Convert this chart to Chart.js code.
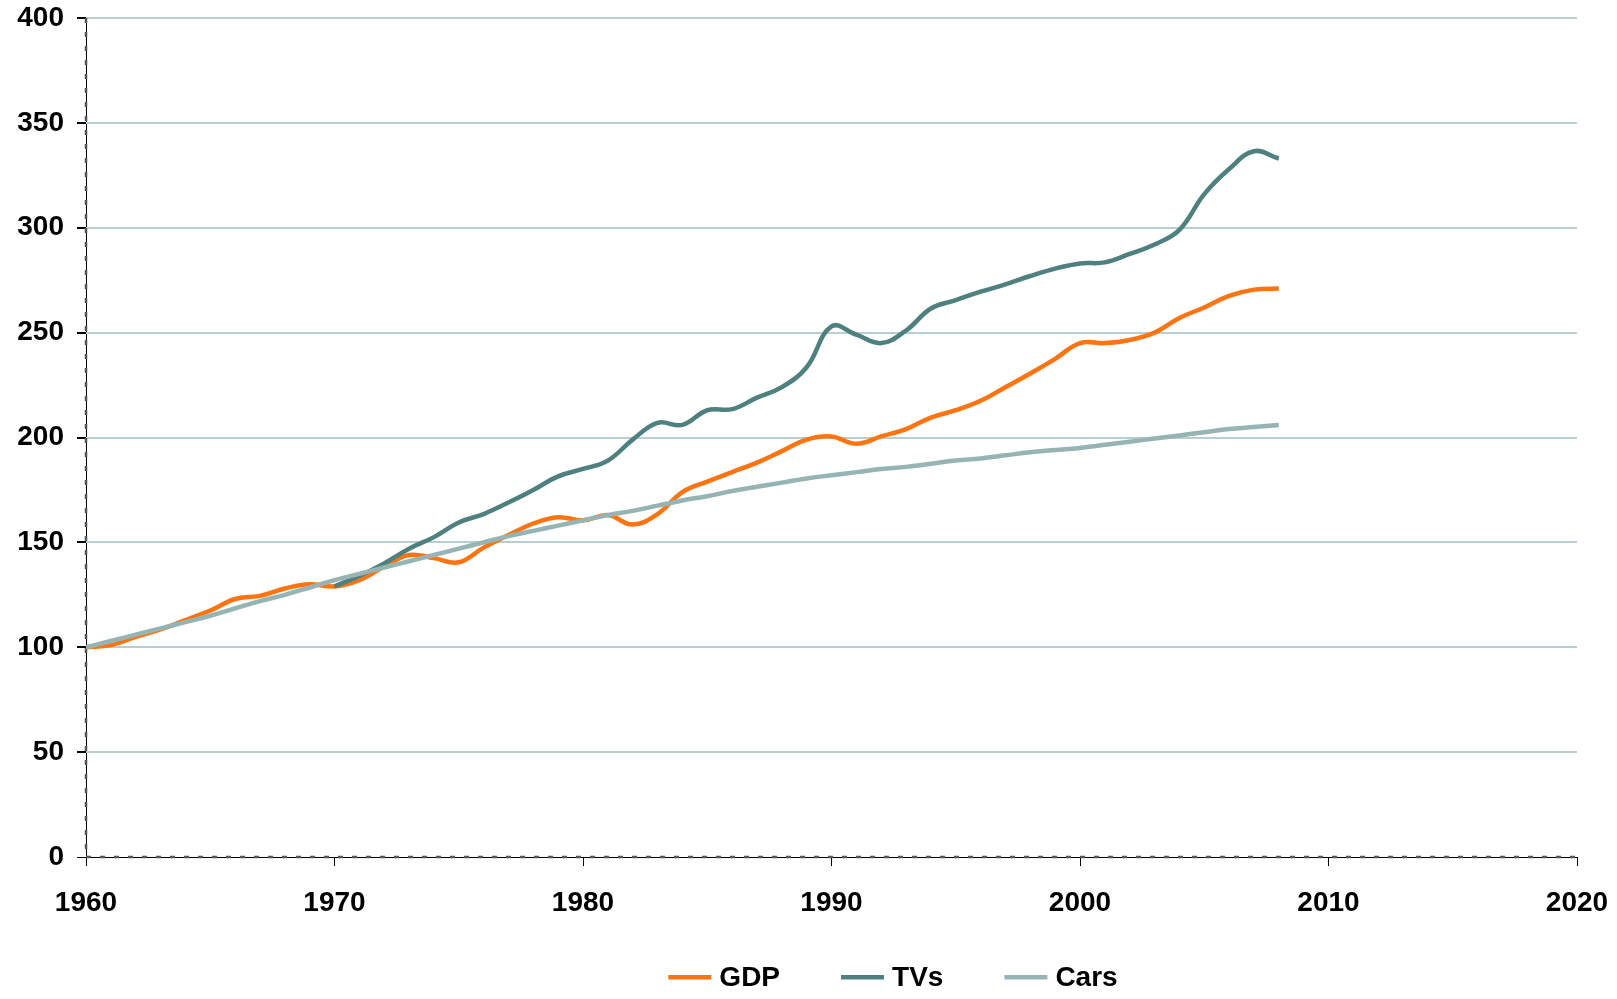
<!DOCTYPE html>
<html>
<head>
<meta charset="utf-8">
<title>GDP, TVs and Cars</title>
<script src="https://cdn.jsdelivr.net/npm/chart.js@4.4.1/dist/chart.umd.min.js"></script>
<style>
    html, body { margin: 0; padding: 0; background: #fff; }
    #wrap { width: 1617px; height: 999px; position: relative; }
</style>
</head>
<body>
<div id="wrap"><canvas id="growthChart"></canvas></div>
<script>
// Index values (1960 = 100)
const years = [1960, 1961, 1962, 1963, 1964, 1965, 1966, 1967, 1968, 1969,
               1970, 1971, 1972, 1973, 1974, 1975, 1976, 1977, 1978, 1979,
               1980, 1981, 1982, 1983, 1984, 1985, 1986, 1987, 1988, 1989,
               1990, 1991, 1992, 1993, 1994, 1995, 1996, 1997, 1998, 1999,
               2000, 2001, 2002, 2003, 2004, 2005, 2006, 2007, 2008];

const gdp = [100, 101, 105, 108.5, 113, 117.5, 123, 124.5, 128, 130,
             129, 132, 138.5, 144, 142.5, 140.5, 147.5, 153.5, 159, 162,
             160.5, 163, 158.5, 163.5, 174, 179, 183.5, 188, 193.5, 199,
             200.5, 197, 200.5, 204, 209.5, 213, 217.5, 224, 230.5, 237.5,
             245, 245, 246.5, 250, 257, 262, 267.5, 270.5, 271];

const tvs = [null, null, null, null, null, null, null, null, null, null,
             129, 134, 140, 147, 152.5, 159.5, 163.5, 169, 175, 181.5,
             185, 189, 199, 207, 206, 213, 213.5, 219, 224, 233.5,
             253, 249, 245, 251, 261.5, 265.5, 269.5, 273, 277, 280.5,
             283, 283.5, 287.5, 292, 299, 316, 328, 336.5, 333];

const cars = [100, 103, 106, 109, 112, 115, 118.5, 122, 125, 128.5,
              132, 135, 138, 141, 144, 147, 150, 153, 155.5, 158,
              160.5, 163, 165, 167.5, 170, 172, 174.5, 176.5, 178.5, 180.5,
              182, 183.5, 185, 186, 187.5, 189, 190, 191.5, 193, 194,
              195, 196.5, 198, 199.5, 201, 202.5, 204, 205, 206];

const yTicks = [0, 50, 100, 150, 200, 250, 300, 350, 400];
const xTicks = [1960, 1970, 1980, 1990, 2000, 2010, 2020];

const COLORS = {
    gdp: '#ff7410',
    tvs: '#4d807f',
    cars: '#95b4b3',
    grid: '#b8cfcf',
    axis: '#555555'
};

const FONT = "'Liberation Sans', Arial, sans-serif";

// legend row placement (the original sits right of centre)
const LEGEND = { centerX: 893, y: 977, swatch: 43, gap: 8, spacing: 61, size: 28 };

function toPoints(values) {
    return years.map((yr, i) => ({ x: yr, y: values[i] }));
}

function makeSet(label, values, color, order) {
    return {
        label: label,
        data: toPoints(values),
        borderColor: color,
        backgroundColor: color,
        borderWidth: 4.5,
        pointRadius: 0,
        tension: 0.4,
        fill: false,
        order: order
    };
}

// Gray dashes laid over the thin black axis lines
const dashedAxes = {
    id: 'dashedAxes',
    beforeDatasetsDraw(chart) {
        const { ctx, chartArea: a } = chart;
        ctx.save();
        ctx.strokeStyle = COLORS.axis;
        ctx.lineWidth = 2.5;
        ctx.setLineDash([5, 9]);
        ctx.beginPath();
        ctx.moveTo(a.left, a.top);
        ctx.lineTo(a.left, a.bottom);
        ctx.moveTo(a.left, a.bottom);
        ctx.lineTo(a.right, a.bottom);
        ctx.stroke();
        ctx.restore();
    }
};

// Legend drawn as one row: line swatch + bold label
const legendRow = {
    id: 'legendRow',
    afterDraw(chart) {
        const ctx = chart.ctx;
        ctx.save();
        ctx.font = 'bold ' + LEGEND.size + 'px ' + FONT;
        ctx.textBaseline = 'middle';
        ctx.textAlign = 'left';
        const items = chart.data.datasets.map(ds => ({
            text: ds.label,
            color: ds.borderColor,
            w: ctx.measureText(ds.label).width
        }));
        let total = LEGEND.spacing * (items.length - 1);
        items.forEach(it => { total += LEGEND.swatch + LEGEND.gap + it.w; });
        let x = LEGEND.centerX - total / 2;
        items.forEach(it => {
            ctx.fillStyle = it.color;
            ctx.fillRect(x, LEGEND.y - 2, LEGEND.swatch, 4.5);
            x += LEGEND.swatch + LEGEND.gap;
            ctx.fillStyle = '#000';
            ctx.fillText(it.text, x, LEGEND.y + 1);
            x += it.w + LEGEND.spacing;
        });
        ctx.restore();
    }
};

const ctx = document.getElementById('growthChart');

new Chart(ctx, {
    type: 'line',
    data: {
        datasets: [
            makeSet('GDP', gdp, COLORS.gdp, 3),
            makeSet('TVs', tvs, COLORS.tvs, 2),
            makeSet('Cars', cars, COLORS.cars, 1)
        ]
    },
    plugins: [dashedAxes, legendRow],
    options: {
        responsive: true,
        maintainAspectRatio: false,
        animation: false,
        layout: {
            padding: { top: 18, right: 40, bottom: 80, left: 0 }
        },
        plugins: {
            tooltip: { enabled: false },
            legend: { display: false }
        },
        scales: {
            x: {
                type: 'linear',
                min: 1960,
                max: 2020,
                afterBuildTicks: function(scale) {
                    scale.ticks = xTicks.map(v => ({ value: v }));
                },
                afterFit: function(scale) {
                    scale.height = 62;
                },
                grid: {
                    color: c => (c.tick && c.tick.value === 1960) ? '#000' : 'rgba(0,0,0,0)',
                    lineWidth: 1,
                    tickColor: '#000',
                    tickLength: 24,
                    tickBorderDash: [9, 60],
                    drawTicks: true
                },
                border: { display: false },
                ticks: {
                    color: '#000',
                    padding: 5,
                    maxRotation: 0,
                    font: { family: FONT, size: 28, weight: 'bold' },
                    callback: v => String(v)
                }
            },
            y: {
                min: 0,
                max: 400,
                afterBuildTicks: function(scale) {
                    scale.ticks = yTicks.map(v => ({ value: v }));
                },
                afterFit: function(scale) {
                    scale.width = 86;
                },
                grid: {
                    color: c => (c.tick && c.tick.value === 0) ? '#000' : COLORS.grid,
                    lineWidth: c => (c.tick && c.tick.value === 0) ? 1 : 2,
                    tickColor: '#000',
                    tickLength: 9
                },
                border: { display: false },
                ticks: {
                    color: '#000',
                    padding: 13,
                    font: { family: FONT, size: 28, weight: 'bold', lineHeight: 0.3 }
                }
            }
        }
    }
});
</script>
</body>
</html>
